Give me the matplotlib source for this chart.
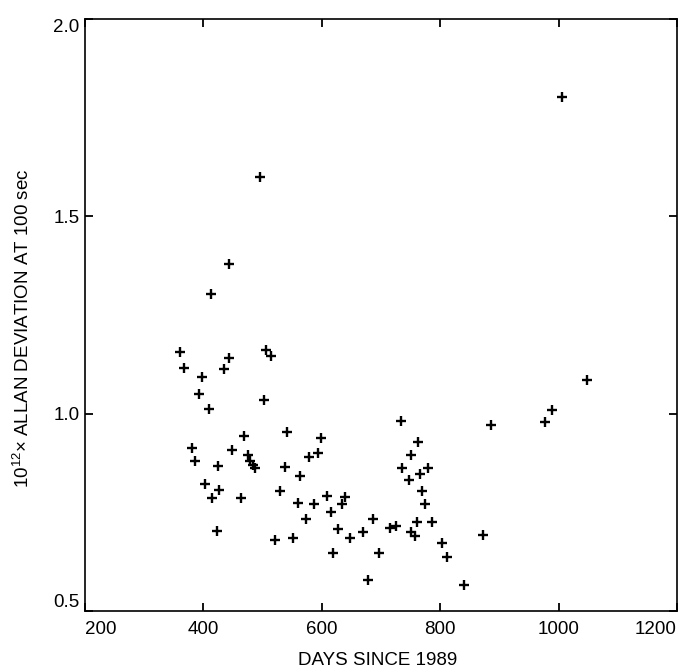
import numpy as np
import matplotlib.pyplot as plt

plt.rcParams['font.family'] = ['Liberation Sans', 'DejaVu Sans']
plt.rcParams['mathtext.fontset'] = 'custom'
plt.rcParams['mathtext.rm'] = 'Liberation Sans'

# values
days = [361, 367, 397, 393, 409, 434, 443, 505, 515, 502, 380, 385, 403, 414,
        424, 427, 423, 448, 469, 475, 479, 483, 487, 464, 521, 529, 537, 541,
        551, 563, 560, 573, 578, 594, 598, 587, 609, 616, 619, 627, 634, 640,
        647, 669, 678, 687, 696, 715, 726, 734, 736, 747, 751, 750, 757, 763,
        766, 769, 774, 760, 780, 786, 803, 812, 840, 872, 885, 977, 989, 1048,
        1005, 495, 444, 412]
allan = [1.157, 1.115, 1.093, 1.050, 1.012, 1.114, 1.140, 1.162, 1.145, 1.035,
         0.913, 0.881, 0.821, 0.787, 0.867, 0.807, 0.703, 0.909, 0.943, 0.895,
         0.879, 0.871, 0.862, 0.786, 0.681, 0.804, 0.864, 0.954, 0.686, 0.843,
         0.773, 0.732, 0.891, 0.900, 0.938, 0.772, 0.791, 0.750, 0.648, 0.707,
         0.770, 0.790, 0.684, 0.700, 0.579, 0.733, 0.648, 0.710, 0.715, 0.982,
         0.862, 0.833, 0.895, 0.699, 0.690, 0.928, 0.848, 0.805, 0.770, 0.726,
         0.862, 0.725, 0.673, 0.637, 0.567, 0.692, 0.971, 0.978, 1.010, 1.085,
         1.802, 1.599, 1.378, 1.303]

xticks = [200, 400, 600, 800, 1000, 1200]
yticks = [0.5, 1.0, 1.5, 2.0]

fig = plt.figure(figsize=(6.79, 6.71), dpi=100)
ax = fig.add_axes([85/679, 1 - 611/671, 592/679, 592/671])

ax.plot(days, allan, linestyle='none', marker='+', color='black',
        markersize=7, markeredgewidth=1.7)

ax.set_xlim(200, 1200)
ax.set_ylim(0.5, 2.0)
ax.set_xticks(xticks)
ax.set_yticks(yticks)
ax.set_xticklabels([str(t) for t in xticks])
ax.set_yticklabels(['%.1f' % t for t in yticks])

ax.tick_params(direction='in', length=6, width=1.3, top=True, right=True,
               labelsize=13.5, colors='black')
ax.tick_params(axis='x', pad=7)
ax.tick_params(axis='y', pad=4)

# end labels sit inside the corners like in the original
xl = ax.get_xticklabels()
xl[0].set_horizontalalignment('left')
xl[-1].set_horizontalalignment('right')
yl = ax.get_yticklabels()
yl[0].set_verticalalignment('bottom')
yl[-1].set_verticalalignment('top')

for s in ax.spines.values():
    s.set_linewidth(1.2)

ax.set_xlabel('DAYS SINCE 1989', fontsize=13.5)
ax.xaxis.set_label_coords(0.494, -0.070)
ax.set_ylabel('10$^{12}$\u00d7 ALLAN DEVIATION AT 100 sec', fontsize=13.5)
ax.yaxis.set_label_coords(-0.088, 0.478)

fig.savefig('out.png', dpi=100)
